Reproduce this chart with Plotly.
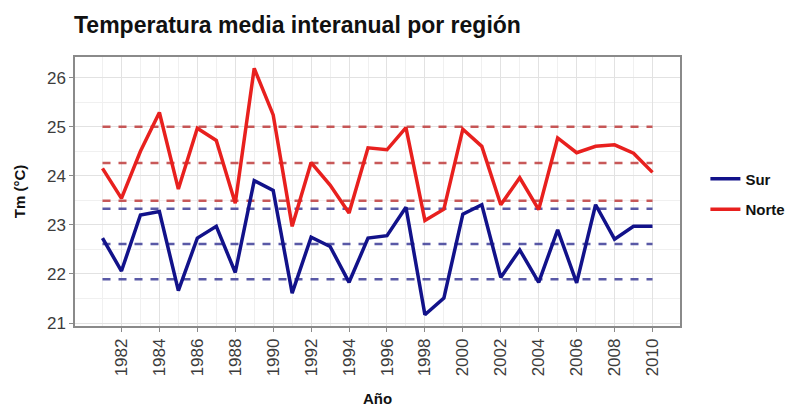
import plotly.graph_objects as go

# Datos
anios = list(range(1981, 2011))
tm_norte = [24.15, 23.54, 24.50, 25.29, 23.73, 24.97, 24.72, 23.44, 26.19, 25.24,
            22.97, 24.27, 23.81, 23.24, 24.57, 24.53, 24.98, 23.09, 23.32, 24.95,
            24.60, 23.41, 23.96, 23.31, 24.77, 24.47, 24.60, 24.63, 24.46, 24.07]
tm_sur = [22.73, 22.06, 23.20, 23.27, 21.66, 22.73, 22.97, 22.03, 23.90, 23.70,
          21.61, 22.75, 22.56, 21.83, 22.73, 22.78, 23.36, 21.17, 21.51, 23.22,
          23.41, 21.93, 22.49, 21.83, 22.90, 21.82, 23.41, 22.71, 22.97, 22.97]
# media y +/- desviacion (lineas discontinuas)
ref_norte = [23.49, 24.26, 25.00]
ref_sur = [21.89, 22.61, 23.33]

COLOR_NORTE = "#E8201E"
COLOR_SUR = "#12128A"
DASH_NORTE = "rgba(190,60,60,0.85)"
DASH_SUR = "rgba(60,60,150,0.85)"
FUENTE = "Liberation Sans, Arial, sans-serif"

fig = go.Figure()

# lineas de referencia
for v in ref_norte:
    fig.add_trace(go.Scatter(x=[anios[0], anios[-1]], y=[v, v], mode="lines",
                             line=dict(color=DASH_NORTE, width=2.5, dash="8px,8px"),
                             showlegend=False, hoverinfo="skip"))
for v in ref_sur:
    fig.add_trace(go.Scatter(x=[anios[0], anios[-1]], y=[v, v], mode="lines",
                             line=dict(color=DASH_SUR, width=2.5, dash="8px,8px"),
                             showlegend=False, hoverinfo="skip"))

fig.add_trace(go.Scatter(x=anios, y=tm_sur, mode="lines", name="Sur", legendgroup="sur",
                         line=dict(color=COLOR_SUR, width=3.5), legendrank=1))
fig.add_trace(go.Scatter(x=anios, y=tm_norte, mode="lines", name="Norte", legendgroup="norte",
                         line=dict(color=COLOR_NORTE, width=3.5), legendrank=2))

eje = dict(
    showline=True, linecolor="#8a8a8a", linewidth=1.5, mirror=True,
    ticks="outside", ticklen=4, tickcolor="#8a8a8a",
    gridcolor="#e2e2e2", gridwidth=1,
    zeroline=False, automargin=False,
    tickfont=dict(family=FUENTE, size=17, color="#3c3c3c"),
)

# la pagina tiene 8px de margen en el body: se compensa en los margenes
fig.update_layout(
    width=794, height=409,
    paper_bgcolor="white", plot_bgcolor="white",
    margin=dict(l=67, r=105, t=49, b=91),
    title=dict(text="<b>Temperatura media interanual por región</b>",
               x=66 / 794, xanchor="left", y=1 - 17 / 409, yanchor="middle",
               font=dict(family=FUENTE, size=23, color="#111")),
    xaxis=dict(eje, range=[1979.55, 2011.45], tickmode="array",
               tickvals=list(range(1982, 2011, 2)), tickangle=-90,
               minor=dict(showgrid=True, gridcolor="#f0f0f0", tickvals=list(range(1981, 2011, 2))),
               title=dict(text="<b>Año</b>", standoff=18,
                          font=dict(family=FUENTE, size=15, color="#111"))),
    yaxis=dict(eje, range=[20.94, 26.42], tickmode="array", tickvals=[21, 22, 23, 24, 25, 26],
               minor=dict(showgrid=True, gridcolor="#f0f0f0", tickvals=[20.5, 21.5, 22.5, 23.5, 24.5, 25.5, 26.5]),
               title=dict(text="<b>Tm (°C)</b>", standoff=18,
                          font=dict(family=FUENTE, size=15, color="#111"))),
    legend=dict(x=1.042, xanchor="left", y=0.491, yanchor="middle",
                font=dict(family=FUENTE, size=15, color="#111", weight="bold"),
                itemwidth=30, tracegroupgap=8, bgcolor="rgba(0,0,0,0)"),
)

fig.write_html("out.html")
